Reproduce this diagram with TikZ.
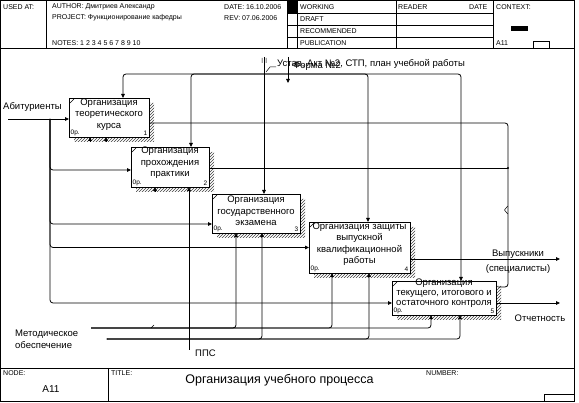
\documentclass[tikz,border=0pt]{standalone}
\usepackage{fontspec}
\setmainfont{Liberation Sans}
\usetikzlibrary{arrows.meta,patterns,calc}
\tikzset{
  frame/.style={line width=0.8pt},
  box/.style={draw, line width=0.9pt, fill=white, inner sep=0pt, outer sep=0pt},
  boxtext/.style={font=\fontsize{9.5}{11.5}\selectfont, align=center, inner sep=0pt},
  small/.style={font=\fontsize{6.5}{7}\selectfont, inner sep=0pt},
  lbl/.style={font=\fontsize{9.5}{11}\selectfont, inner sep=0pt},
  hdr/.style={font=\fontsize{7}{8}\selectfont, inner sep=0pt, anchor=west},
  conn/.style={line width=0.8pt, rounded corners=3pt},
  arr/.style={conn, -{Triangle[length=4pt,width=3.6pt]}},
  hatch/.style={pattern=north east lines, pattern color=black!75},
}
\newcommand\boxshadow[1]{%
  \fill[hatch] ([yshift=-5pt]#1.north east) -- ([xshift=5pt,yshift=-5pt]#1.north east)
    -- ([xshift=5pt,yshift=-5pt]#1.south east) -- ([xshift=5pt,yshift=-5pt]#1.south west)
    -- ([xshift=5pt]#1.south west) -- (#1.south east) -- cycle;}
\newcommand\boxdeco[2]{%
  \draw[line width=0.5pt] ([xshift=1pt,yshift=-5pt]#1.north west) -- ([xshift=5pt,yshift=-1pt]#1.north west);
  \node[small, anchor=south west] (#1c) at ([xshift=1.5pt,yshift=1.2pt]#1.south west) {0р.};
  \node[small, anchor=south east] (#1n) at ([xshift=-1.5pt,yshift=1.2pt]#1.south east) {#2};}
\begin{document}
\begin{tikzpicture}[x=1pt,y=-1pt]
\useasboundingbox (0,0) rectangle (579,403);
% frame
\draw[frame] (0.5,0.5) rectangle (574.5,401.5);
% header
\draw[frame] (0,48) -- (574.5,48);
\draw[frame] (46,0) -- (46,48);
\fill (287,0) rectangle (297,13);
\draw[frame] (287,0) -- (287,48);
\draw[frame] (297,0) -- (297,48);
\draw[frame] (396,0) -- (396,48);
\draw[frame] (493,0) -- (493,48);
\foreach \yy in {13.5,25.5,37} {\draw[frame] (287,\yy) -- (493,\yy);}
\fill (511,26) rectangle (528,31);
\draw[frame] (533,48) -- (533,41) -- (549,41) -- (549,48);
\node[hdr] (usedat) at (3,7) {USED AT:};
\node[hdr] (author) at (52,7) {AUTHOR: Дмитриев Александр};
\node[hdr] (project) at (52,18) {PROJECT: Функционирование кафедры};
\node[hdr] (notes) at (52,43) {NOTES: 1 2 3 4 5 6 7 8 9 10};
\node[hdr] (date) at (224,7) {DATE: 16.10.2006};
\node[hdr] (rev) at (224,18) {REV: 07.06.2006};
\node[hdr] (working) at (300,7) {WORKING};
\node[hdr] (draft) at (300,19.5) {DRAFT};
\node[hdr] (recom) at (300,31.5) {RECOMMENDED};
\node[hdr] (publ) at (300,43) {PUBLICATION};
\node[hdr] (reader) at (398,7) {READER};
\node[hdr] (rdate) at (469,7) {DATE};
\node[hdr] (context) at (496,7) {CONTEXT:};
\node[hdr] (ctxnode) at (496,43) {A11};
% footer
\draw[frame] (0,368) -- (574.5,368);
\draw[frame] (108,368) -- (108,401.5);
\draw[frame] (544,401.5) -- (544,394) -- (574.5,394);
\node[hdr] (nodelbl) at (3,373) {NODE:};
\node[hdr] (titlelbl) at (111,373) {TITLE:};
\node[hdr] (numlbl) at (426,373) {NUMBER:};
\node[font=\fontsize{10}{12}\selectfont, inner sep=0pt] (nodenum) at (51,389) {A11};
\node[font=\fontsize{12.5}{14}\selectfont, inner sep=0pt] (title) at (279.5,380) {Организация учебного процесса};
% boxes
\node[box, minimum width=80pt, minimum height=39pt] (b1) at (109,117.5) {};
\node[box, minimum width=78pt, minimum height=40pt] (b2) at (170,167) {};
\node[box, minimum width=88pt, minimum height=39pt] (b3) at (256,213.5) {};
\node[box, minimum width=101pt, minimum height=51pt] (b4) at (359.5,247.5) {};
\node[box, minimum width=104pt, minimum height=34pt] (b5) at (444,298) {};
\boxshadow{b1}\boxshadow{b2}\boxshadow{b3}\boxshadow{b4}\boxshadow{b5}
\node[box, minimum width=80pt, minimum height=39pt] at (b1) {};
\node[box, minimum width=78pt, minimum height=40pt] at (b2) {};
\node[box, minimum width=88pt, minimum height=39pt] at (b3) {};
\node[box, minimum width=101pt, minimum height=51pt] at (b4) {};
\node[box, minimum width=104pt, minimum height=34pt] at (b5) {};
\node[boxtext] (b1t) at (109,114.5) {Организация\\теоретического\\курса};
\node[boxtext] (b2t) at (170,163) {Организация\\прохождения\\практики};
\node[boxtext] (b3t) at (256,211) {Организация\\государственного\\экзамена};
\node[boxtext] (b4t) at (359.5,244) {Организация защиты\\выпускной\\квалификационной\\работы};
\node[boxtext, font=\fontsize{9.5}{10.2}\selectfont] (b5t) at (444,293) {Организация\\текущего, итогового и\\остаточного контроля};
\boxdeco{b1}{1}\boxdeco{b2}{2}\boxdeco{b3}{3}\boxdeco{b4}{4}\boxdeco{b5}{5}
% inputs
\coordinate (abit) at (8,119);
\coordinate (jA) at (50,119);
\node[lbl, anchor=west] (labit) at (3,107) {Абитуриенты};
\draw[arr] (abit) -- (b1.west |- abit);
\draw[arr] (jA) |- ([yshift=-3pt]b2.west);
\draw[arr] (jA) |- ([yshift=-10.5pt]b3.west);
\draw[arr] (jA) |- (b4.west);
\draw[arr] (jA) |- ([yshift=-5pt]b5.west);
% controls
\coordinate (ctop) at (264,57);
\coordinate (cbar) at (264,74);
\coordinate (fm) at (288,57);
\coordinate (fmend) at (288,83);
\draw[arr] (ctop) -- (b3.north -| ctop);
\draw[arr] (cbar) -| (b1.north -| 123,0);
\draw[arr] (cbar) -| (b2.north -| 191,0);
\draw[arr] (cbar) -| (b4.north -| 368,0);
\draw[arr] (cbar) -| (b5.north -| 461,0);
\draw[arr] (fm) -- (fmend);
\draw[line width=0.5pt] (262,58) -- (262,63) (266,58) -- (266,63) (266,72) -- (270,67) -- (276,67);
\node[lbl, anchor=west] (lust) at (277,64) {Устав, Акт №2, СТП, план учебной работы};
\node[lbl, anchor=west] (lform) at (293,66.5) {Форма №2};
% outputs
\coordinate (jO) at (508,210);
\draw[conn] ([yshift=-5.5pt]b1.east) -| (jO) |- ([xshift=2pt,yshift=11pt]b5.east);
\draw[conn] ([yshift=-1pt]b2.east) -- ([yshift=-1pt]b2.east -| jO);
\fill ([yshift=-1pt]b2.east -| jO) circle (1.1pt);
\draw[line width=0.5pt] ([xshift=-0.3pt,yshift=4pt]jO) -- ([xshift=-3.5pt]jO) -- ([xshift=-0.3pt,yshift=-4pt]jO);
\coordinate (grad) at (560,259);
\coordinate (rep) at (560,303);
\draw[arr] ([yshift=-11.5pt]b4.east) -- (grad);
\draw[arr] ([yshift=-5pt]b5.east) -- (rep);
\node[lbl, align=center, font=\fontsize{9.5}{15}\selectfont] (lgrad) at (518,261.5) {Выпускники\\(специалисты)};
\node[lbl] (lrep) at (540,318) {Отчетность};
% mechanisms
\coordinate (m1) at (91,328);
\coordinate (m2) at (107,339);
\coordinate (pps) at (189,350);
\draw[arr] (m1) -| (b5.south -| 431,0);
\draw[arr] (m1) -| (b3.south -| 236,0);
\draw[arr] (m1) -| (b4.south -| 332,0);
\draw[arr] (m2) -| (b5.south -| 460,0);
\draw[arr] (m2) -| (b3.south -| 262,0);
\draw[arr] (m2) -| (b4.south -| 369,0);
\fill (m2) circle (0.7pt);
\draw[line width=0.5pt] (151,328) -- (154,325);
\draw[arr] (pps) -- (b2.south -| pps);
\draw[arr] ($(b1.south -| 90,0)+(0,4)$) -- (b1.south -| 90,0);
\draw[arr] ($(b1.south -| 106,0)+(0,4)$) -- (b1.south -| 106,0);
\draw[arr] ($(b2.south -| 155,0)+(0,4)$) -- (b2.south -| 155,0);
\node[lbl, align=left, anchor=west, font=\fontsize{9.5}{11.5}\selectfont] (lmet) at (15,339.5) {Методическое\\обеспечение};
\node[lbl, anchor=west] (lpps) at (195,353) {ППС};
\end{tikzpicture}
\end{document}
